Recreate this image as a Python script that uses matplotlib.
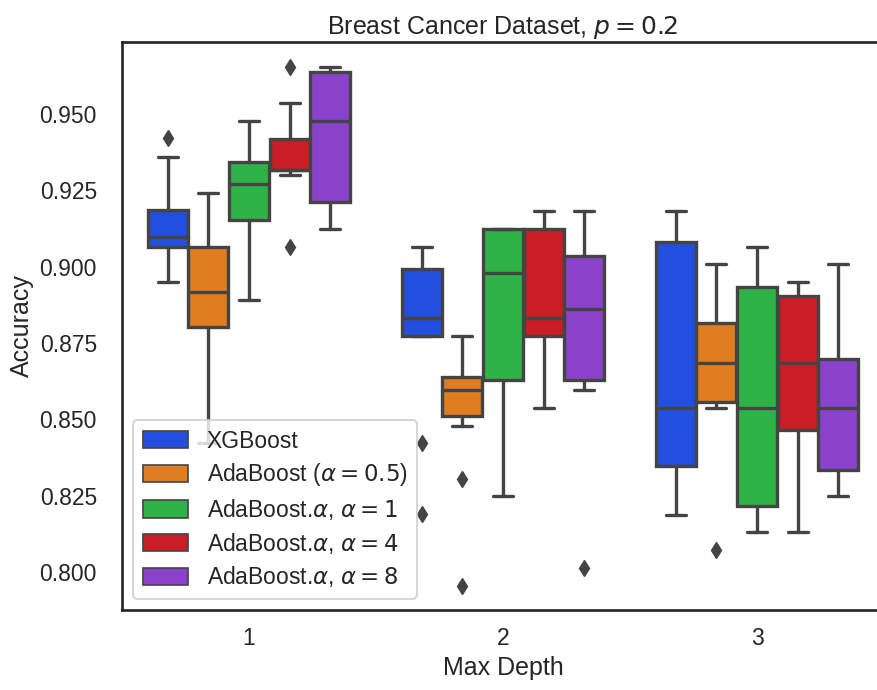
import matplotlib
matplotlib.use("Agg")
import matplotlib.pyplot as plt
import seaborn as sns
from matplotlib.patches import Patch

sns.set_theme(style="white", context="talk")
plt.rcParams['font.family'] = ['Liberation Sans', 'DejaVu Sans']

depths = ["1", "2", "3"]
models = ["XGBoost", r"AdaBoost ($\alpha = 0.5$)", r"AdaBoost.$\alpha$, $\alpha = 1$",
          r"AdaBoost.$\alpha$, $\alpha = 4$", r"AdaBoost.$\alpha$, $\alpha = 8$"]

# box stats: [depth][model]
q1 = [[0.9065, 0.8803, 0.9153, 0.9317, 0.9211],
      [0.8774, 0.8509, 0.8627, 0.8774, 0.8627],
      [0.8348, 0.8556, 0.8217, 0.8465, 0.8334]]
med = [[0.9096, 0.8918, 0.9271, 0.9317, 0.9477],
       [0.8833, 0.8596, 0.8978, 0.8833, 0.8861],
       [0.8538, 0.8683, 0.8538, 0.8683, 0.8538]]
q3 = [[0.9186, 0.9065, 0.9344, 0.9418, 0.9639],
      [0.8992, 0.8640, 0.9123, 0.9123, 0.9035],
      [0.9080, 0.8814, 0.8934, 0.8905, 0.8698]]
whislo = [[0.8950, 0.8421, 0.8891, 0.9300, 0.9124],
          [0.8774, 0.8479, 0.8247, 0.8538, 0.8597],
          [0.8187, 0.8538, 0.8129, 0.8129, 0.8247]]
whishi = [[0.9360, 0.9242, 0.9477, 0.9535, 0.9653],
          [0.9065, 0.8774, 0.9123, 0.9182, 0.9182],
          [0.9183, 0.9008, 0.9065, 0.8949, 0.9008]]
fliers = [[[0.9420], [], [], [0.9655, 0.9065], []],
          [[0.8421, 0.8189], [0.8304, 0.7954], [], [], [0.8012]],
          [[], [0.8072], [], [], []]]

colors = [sns.desaturate(c, 0.75) for c in sns.color_palette("bright", 5)]
gray = "#444444"

fig = plt.figure(figsize=(8.78, 6.9), dpi=100)
ax = fig.add_axes([122 / 878, 80 / 690, 762 / 878, 568 / 690])

width = 0.8 / len(models)
for i in range(len(depths)):
    for j in range(len(models)):
        pos = i - 0.4 + width * (j + 0.5)
        stats = [dict(med=med[i][j], q1=q1[i][j], q3=q3[i][j],
                      whislo=whislo[i][j], whishi=whishi[i][j], fliers=fliers[i][j])]
        ax.bxp(stats, positions=[pos], widths=width * 0.98, patch_artist=True,
               boxprops=dict(facecolor=colors[j], edgecolor=gray, linewidth=2.4),
               medianprops=dict(color=gray, linewidth=2.4),
               whiskerprops=dict(color=gray, linewidth=2.4),
               capprops=dict(color=gray, linewidth=2.4),
               flierprops=dict(marker="d", markerfacecolor=gray, markeredgecolor=gray,
                               markersize=8),
               manage_ticks=False)

ax.set_xlim(-0.5, 2.5)
ax.set_ylim(0.7875, 0.9736)
ax.set_xticks(range(len(depths)))
ax.set_xticklabels(depths)
ax.set_yticks([0.800, 0.825, 0.850, 0.875, 0.900, 0.925, 0.950])
ax.set_yticklabels(["0.800", "0.825", "0.850", "0.875", "0.900", "0.925", "0.950"])
ax.tick_params(axis="y", pad=9)
ax.set_xlabel("Max Depth")
ax.set_ylabel("Accuracy")
ax.set_title(r"Breast Cancer Dataset, $p = 0.2$")
for s in ax.spines.values():
    s.set_color("#222222")

handles = [Patch(facecolor=c, edgecolor=gray, linewidth=1.2) for c in colors]
ax.legend(handles, models, loc="lower left", labelspacing=0.38, handleheight=0.8)

fig.savefig("out.png", dpi=100)
